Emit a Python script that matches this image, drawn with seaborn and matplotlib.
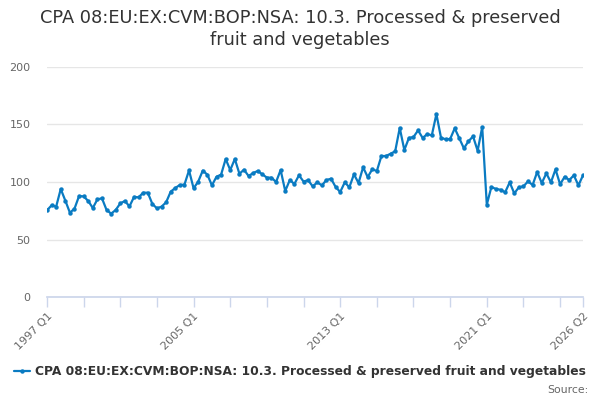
import numpy as np
import pandas as pd
import matplotlib
matplotlib.use("Agg")
import matplotlib.pyplot as plt
import seaborn as sns

# --- DATA ---
SERIES_NAME = "CPA 08:EU:EX:CVM:BOP:NSA: 10.3. Processed & preserved fruit and vegetables"
TITLE = "CPA 08:EU:EX:CVM:BOP:NSA: 10.3. Processed & preserved\nfruit and vegetables"

quarters = [f"{y} Q{q}" for y in range(1997, 2027) for q in range(1, 5)][:118]

values = [
    75.4, 79.7, 78.6, 93.9, 83.8, 73.3, 76.8, 87.8, 87.5, 83.5,
    77.4, 84.9, 85.8, 75.7, 72.5, 75.7, 81.4, 83.5, 78.8, 87.0,
    86.7, 90.7, 90.7, 80.9, 77.1, 78.6, 82.3, 91.6, 94.8, 97.4,
    97.7, 110.1, 94.5, 100.3, 109.9, 106.4, 97.1, 104.6, 106.4, 120.0,
    110.4, 120.0, 107.2, 110.7, 105.2, 107.8, 109.6, 106.7, 103.8, 103.8,
    100.0, 110.4, 92.2, 101.7, 98.3, 105.8, 100.4, 101.6, 96.2, 99.7,
    97.1, 101.7, 102.9, 95.7, 91.3, 99.7, 95.4, 106.7, 99.1, 112.8,
    104.3, 111.0, 109.6, 122.6, 122.6, 124.6, 126.7, 147.0, 127.8, 138.3,
    139.1, 144.9, 138.3, 141.7, 140.6, 159.1, 138.6, 137.1, 137.4, 146.7,
    138.0, 129.3, 135.4, 139.7, 127.2, 147.8, 80.3, 95.7, 93.9, 93.3,
    91.0, 99.7, 90.1, 95.4, 96.2, 100.6, 97.4, 108.7, 99.1, 107.5,
    99.7, 111.0, 98.0, 104.6, 101.7, 105.8, 97.1, 105.8,
]

yticks = [0, 50, 100, 150, 200]
label_quarters = ["1997 Q1", "2005 Q1", "2013 Q1", "2021 Q1", "2026 Q2"]

LINE_COLOR = "#0a7bc2"

df = pd.DataFrame({"idx": np.arange(len(values)), "quarter": quarters, "value": values})

# --- PLOT ---
sns.set_theme(style="white")
plt.rcParams["font.family"] = ["DejaVu Sans"]

fig = plt.figure(figsize=(6, 4), dpi=100)
ax = fig.add_axes([47 / 600, 103 / 400, 536 / 600, 230 / 400])

sns.lineplot(data=df, x="idx", y="value", ax=ax, color=LINE_COLOR, linewidth=1.6,
             marker="o", markersize=3.2, markeredgewidth=0, label=SERIES_NAME)

ax.set_ylim(0, 200)
ax.set_xlim(0, len(values) - 1)
ax.set_yticks(yticks)
ax.set_yticklabels([str(t) for t in yticks], color="#666666", fontsize=8)
ax.grid(axis="y", color="#e6e6e6", linewidth=1)
ax.set_axisbelow(True)

# minor ticks every 2 years, labels on selected quarters
minor_pos = list(range(0, len(values), 8)) + [len(values) - 1]
ax.set_xticks(minor_pos, minor=True)
label_pos = [quarters.index(q) for q in label_quarters]
ax.set_xticks(label_pos)
ax.set_xticklabels(label_quarters, rotation=45, ha="right", rotation_mode="anchor",
                   color="#666666", fontsize=8)
ax.tick_params(axis="x", which="both", length=7, color="#ccd6eb", width=1,
               bottom=True, pad=3)
ax.tick_params(axis="y", length=0, pad=12)

for s in ["top", "right", "left"]:
    ax.spines[s].set_visible(False)
ax.spines["bottom"].set_color("#ccd6eb")
ax.set_xlabel("")
ax.set_ylabel("")

fig.text(0.5, 1 - 29 / 400, TITLE, ha="center", va="center", fontsize=12.8,
         color="#333333", linespacing=1.25)

leg = ax.legend(loc="center", bbox_to_anchor=(0.5, 1 - 372 / 400), bbox_transform=fig.transFigure,
                frameon=False, fontsize=8.8, handlelength=1.3, handletextpad=0.4)
for t in leg.get_texts():
    t.set_color("#333333")
    t.set_fontweight("bold")

fig.text(588 / 600, 1 - 390 / 400, "Source:", ha="right", va="center",
         fontsize=7.8, color="#666666")

fig.savefig("out.png", dpi=100)
